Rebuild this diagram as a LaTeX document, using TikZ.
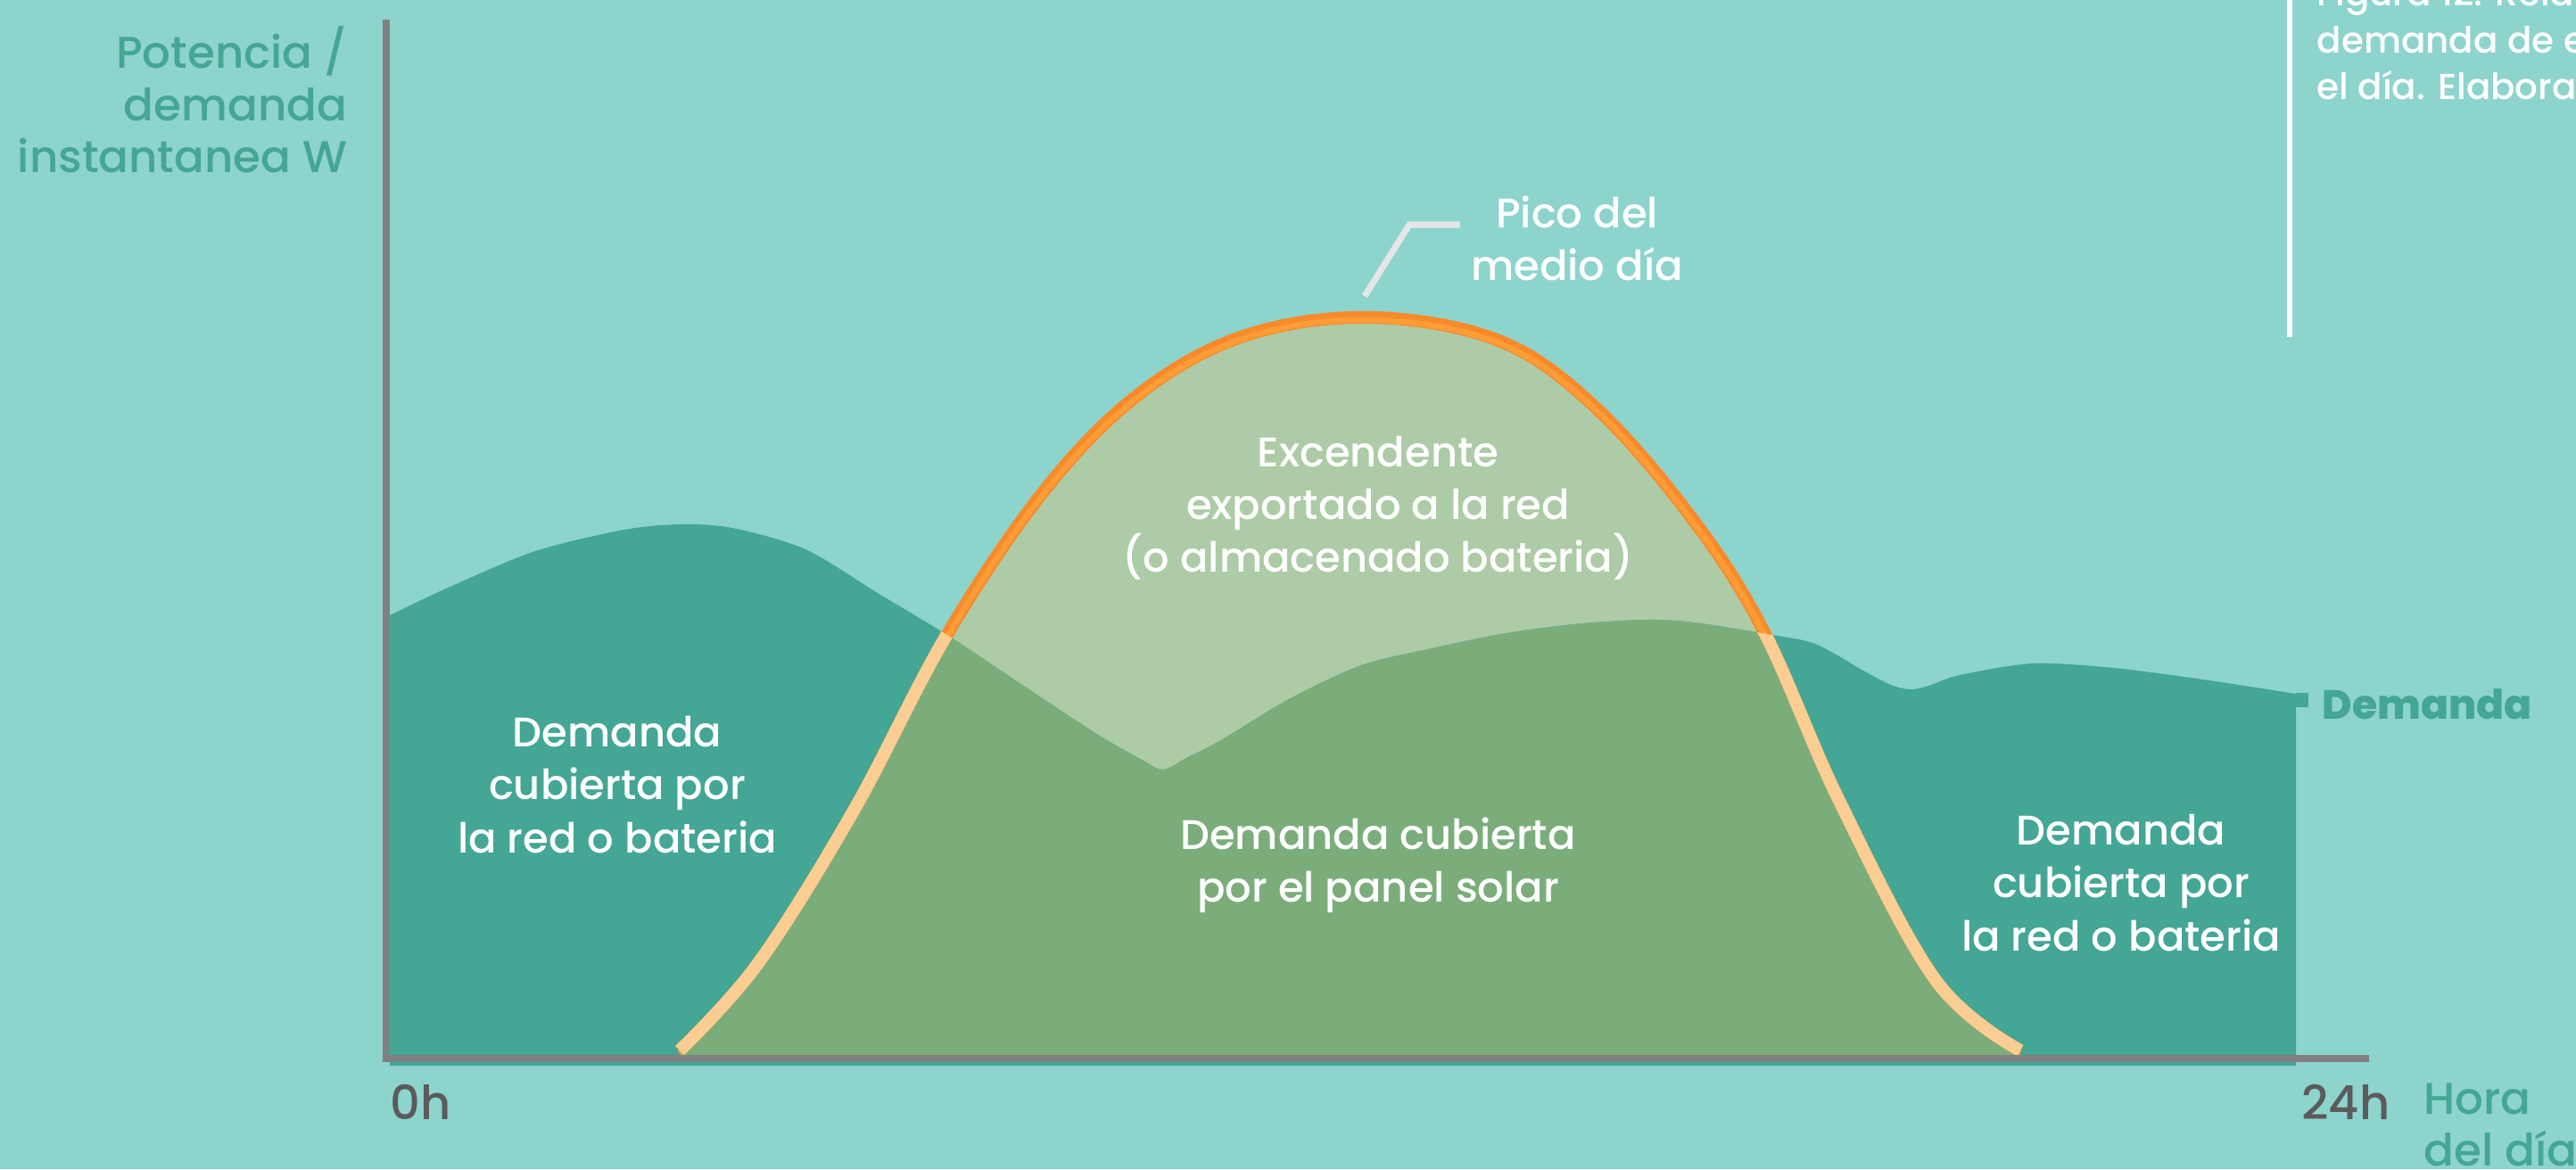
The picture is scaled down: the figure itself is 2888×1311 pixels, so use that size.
\documentclass[tikz,border=0pt]{standalone}
\usepackage{fontspec}
\setmainfont{Poppins}
\newfontfamily\medio{Poppins}[UprightFont=* Medium, BoldFont=* ExtraBold]
\usetikzlibrary{calc}
\usetikzlibrary{positioning}

\definecolor{fondo}{HTML}{8DD4CD}
\definecolor{demanda}{HTML}{44A694}
\definecolor{cubierta}{HTML}{7BAD7B}
\definecolor{excedente}{HTML}{ADCBA6}
\definecolor{naranja}{HTML}{F98A2A}
\definecolor{naranjaint}{HTML}{FE9C37}
\definecolor{naranjaclaro}{HTML}{FACD93}
\definecolor{eje}{HTML}{808080}
\definecolor{gris}{HTML}{5B5B5B}
\definecolor{guia}{HTML}{E6E6E6}

\newcommand{\formademanda}[1]{#1 (437,1195) -- plot [smooth,tension=0.5] coordinates {(437,690) (500,660) (600,618) (700,594) (762,588) (821,592) (903,616) (984,665) (1065,714) (1146,768) (1228,822) (1280,852) (1304,863) (1330,850) (1369,830) (1445,784) (1526,746) (1601,728) (1683,711) (1764,700) (1845,695) (1899,698) (1981,711) (2035,722) (2089,752) (2120,768) (2143,773) (2165,768) (2197,757) (2279,744) (2370,749) (2470,762) (2574,778)} -- (2574,1195) -- cycle;}
\newcommand{\lineasolar}[1]{#1 plot [smooth,tension=0.6] coordinates {(762,1178) (850,1080) (957,909) (1062,711) (1174,546) (1282,438) (1400,375) (1540,356) (1683,383) (1791,459) (1899,584) (1978,709) (2062,898) (2170,1099) (2265,1178)};}
\newcommand{\formasolar}[1]{#1 (762,1187) -- plot [smooth,tension=0.6] coordinates {(762,1178) (850,1080) (957,909) (1062,711) (1174,546) (1282,438) (1400,375) (1540,356) (1683,383) (1791,459) (1899,584) (1978,709) (2062,898) (2170,1099) (2265,1178)} -- (2265,1187) -- cycle;}

\tikzset{
    txt/.style={text=white, align=center, inner sep=0pt, font=\medio\fontsize{13.2}{16.8}\selectfont},
    ejetxt/.style={text=demanda, inner sep=0pt, font=\medio\fontsize{14.2}{16.6}\selectfont},
    hora/.style={text=gris, inner sep=0pt, font=\medio\fontsize{15}{16.6}\selectfont},
    eje/.style={draw=eje, line width=2.3pt},
}

\begin{document}
\begin{tikzpicture}[x=0.01cm,y=-0.01cm]
    \fill[fondo] (0,0) rectangle (2888,1311);
    \useasboundingbox (0,0) rectangle (2888,1311);

    \formasolar{\fill[excedente]}
    \formademanda{\fill[demanda]}
    \fill[demanda] (2574,777) rectangle (2588,793);
    \begin{scope}
        \formasolar{\clip}
        \formademanda{\fill[cubierta]}
    \end{scope}

    \lineasolar{\draw[naranja, line width=4pt]}
    \lineasolar{\draw[naranjaint, line width=1.8pt, yshift=-0.8pt]}
    \begin{scope}
        \formademanda{\clip}
        \lineasolar{\draw[naranjaclaro, line width=4pt]}
    \end{scope}

    \draw[eje] (433,22) -- (433,1191);
    \draw[eje] (429,1187) -- (2656,1187);

    \node[ejetxt, align=right, anchor=east] (potencia) at (390,112) {Potencia /\\demanda\\instantanea W};
    \node[hora, anchor=west] (cero) at (437,1236) {0h};
    \node[hora, anchor=east] (veinticuatro) at (2680,1236) {24h};
    \node[ejetxt, align=left, anchor=north west] (hora) at (2717,1214) {Hora\\del día};
    \node[ejetxt, font=\medio\bfseries\fontsize{13}{16.6}\selectfont, anchor=west] (demlbl) at (2603,790) {Demanda};

    \node[txt] (redizq) at (692,880) {Demanda\\cubierta por\\la red o bateria};
    \node[txt] (panel) at (1545,970) {Demanda cubierta\\por el panel solar};
    \node[txt] (exceso) at (1545,570) {Excendente\\exportado a la red\\(o almacenado bateria)};
    \node[txt] (redder) at (2378,990) {Demanda\\cubierta por\\la red o bateria};
    \node[txt] (pico) at (1768,267) {Pico del\\medio día};

    \coordinate (picopunta) at (1530,332);
    \coordinate (picocodo) at (1580,252);
    \draw[guia, line width=2pt] (picopunta) -- (picocodo) -- ($(pico.west |- picocodo)+(-12,0)$);

    \draw[white, line width=1.5pt] (2567,0) -- (2567,378);
    \node[txt, align=left, anchor=north west, font=\medio\fontsize{11.5}{14.9}\selectfont] (figura) at (2597,-25) {Figura 12. Rela\\demanda de e\\el día. Elabora};
\end{tikzpicture}
\end{document}
